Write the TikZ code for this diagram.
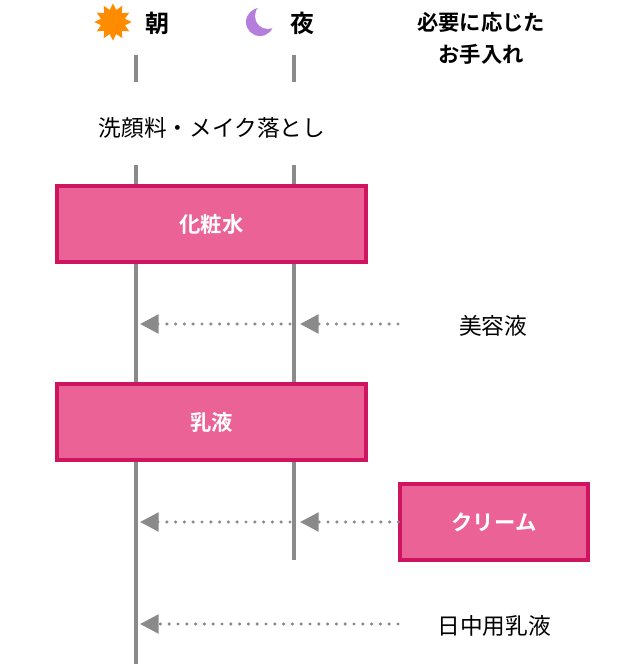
\documentclass[tikz,border=0pt]{standalone}
\usepackage{fontspec}
\setmainfont{Noto Sans CJK JP}
\newfontfamily\jpbold{Noto Sans CJK JP Bold}
\usetikzlibrary{shapes.geometric,arrows.meta}
\definecolor{boxfill}{HTML}{EB6396}
\definecolor{boxdraw}{HTML}{CF1460}
\definecolor{lineg}{HTML}{8A8A8A}
\definecolor{sunc}{HTML}{FF8C00}
\definecolor{moonc}{HTML}{B57EDC}
\begin{document}
\begin{tikzpicture}[x=0.75pt,y=-0.75pt,
  box/.style={draw=boxdraw,fill=boxfill,line width=2.4pt,text=white,font=\jpbold\fontsize{16}{19}\selectfont},
  life/.style={lineg,line width=2.6pt},
  arr/.style={lineg,line width=2.6pt,line cap=round,dash pattern=on 0pt off 6.6pt,-{Triangle[length=14pt,width=14pt]}},
  lbl/.style={font=\fontsize{17}{20}\selectfont},
  hd/.style={font=\jpbold\fontsize{18}{21}\selectfont}]
\useasboundingbox (0,0) rectangle (640,664);
\node[star,star points=12,star point ratio=1.5,fill=sunc,minimum size=28pt,inner sep=0pt] (sun) at (113,22) {};
\node[hd] (asa) at (157,23) {朝};
\fill[moonc] (260,22) circle (14);
\fill[white] (268,16) circle (13);
\coordinate (moon) at (260,22);
\node[hd] (yoru) at (302,23) {夜};
\node[hd,align=center,font=\jpbold\fontsize{16}{24}\selectfont] (need) at (481,38) {必要に応じた\\お手入れ};
\node[lbl] (wash) at (212,128) {洗顔料・メイク落とし};
\draw[life] (136,55) -- (136,82);
\draw[life] (294,55) -- (294,82);
\draw[life] (136,165) -- (136,664);
\draw[life] (294,165) -- (294,560);
\node[box,minimum width=309*0.75pt,minimum height=76*0.75pt] (k) at (211.5,224) {化粧水};
\node[box,minimum width=309*0.75pt,minimum height=76*0.75pt] (n) at (211.5,422) {乳液};
\node[box,minimum width=188*0.75pt,minimum height=76*0.75pt] (c) at (494,522) {クリーム};
\node[lbl] (b) at (493,326) {美容液};
\node[lbl] (d) at (494,626) {日中用乳液};
\coordinate (b1) at (398,324); \coordinate (b2) at (300,324);
\coordinate (b3) at (290,324); \coordinate (b4) at (140,324);
\draw[arr] (b1) -- (b2); \draw[arr] (b3) -- (b4);
\coordinate (c2) at (300,522); \coordinate (c3) at (290,522); \coordinate (c4) at (140,522);
\draw[arr] (c.west) -- (c2); \draw[arr] (c3) -- (c4);
\coordinate (d1) at (398,624); \coordinate (d4) at (140,624);
\draw[arr] (d1) -- (d4);
\end{tikzpicture}
\end{document}
